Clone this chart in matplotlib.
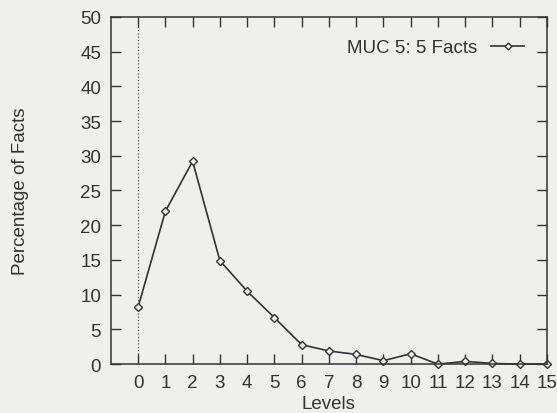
import matplotlib.pyplot as plt
from matplotlib.ticker import MultipleLocator

plt.rcParams["font.family"] = ["Liberation Sans", "DejaVu Sans"]

# percentage of facts found at each level
levels = list(range(16))
pct_facts = [8.2, 22.0, 29.2, 14.9, 10.5, 6.7, 2.8, 1.9, 1.4, 0.5, 1.5,
             0.0, 0.4, 0.1, 0.0, 0.0]
series_label = "MUC 5: 5 Facts"

ink = "#333333"
paper = "#efefec"
fs = 13.5

fig = plt.figure(figsize=(5.57, 4.14), dpi=100, facecolor=paper)
ax = fig.add_axes([0.199, 0.118, 0.783, 0.839], facecolor=paper)

ax.axvline(0, color=ink, lw=0.8, ls=(0, (1, 2)))
ax.plot(levels, pct_facts, color=ink, lw=1.2, marker="D", ms=4.5,
        mfc=paper, mec=ink, mew=1.0, label=series_label, clip_on=False)

ax.set_xlim(-1, 15)
ax.set_ylim(0, 50)
ax.xaxis.set_major_locator(MultipleLocator(1))
ax.yaxis.set_major_locator(MultipleLocator(5))
ax.tick_params(direction="in", top=True, right=True, length=7,
               width=1.0, color=ink, labelcolor=ink, labelsize=fs, pad=7)
ax.set_xticks(levels)
for s in ax.spines.values():
    s.set_color(ink)
    s.set_linewidth(1.1)

ax.set_xlabel("Levels", fontsize=fs, color=ink, labelpad=3)
ax.set_ylabel("Percentage of Facts", fontsize=fs, color=ink, labelpad=37)

leg = ax.legend(loc="upper right", frameon=False, markerfirst=False,
                fontsize=fs, handlelength=1.8, handletextpad=0.7,
                borderaxespad=0.8)
for t in leg.get_texts():
    t.set_color(ink)
for h in leg.legend_handles:
    h.set_markersize(3.5)

fig.savefig("out.png", dpi=100, facecolor=paper)
